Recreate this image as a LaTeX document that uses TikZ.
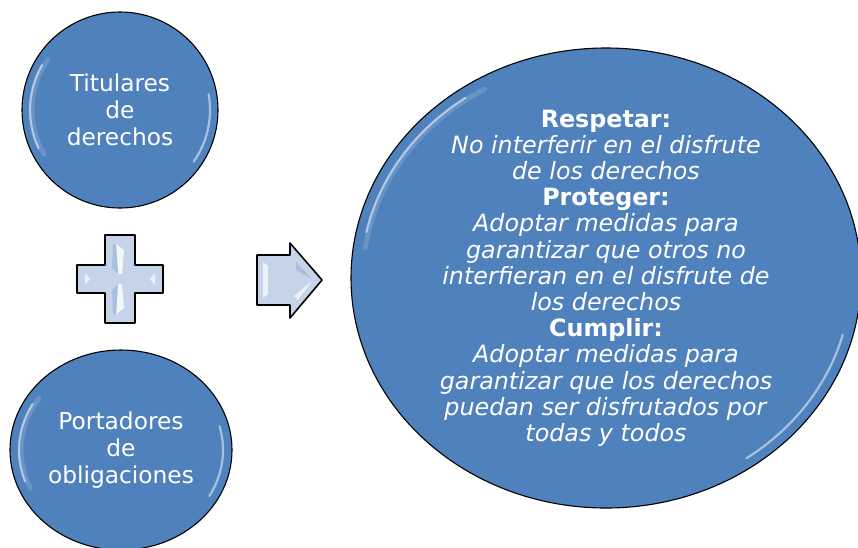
\documentclass[tikz,border=0pt]{standalone}
\usepackage{fontspec}
\setmainfont{DejaVu Sans}
\usetikzlibrary{shapes.geometric}
\definecolor{discblue}{RGB}{79,129,189}
\definecolor{bevelblue}{RGB}{198,212,234}
\definecolor{bevelshade}{RGB}{170,190,222}

\begin{document}
\begin{tikzpicture}[x=1pt, y=1pt,
    disc/.style={draw=black, line width=1.1pt, fill=discblue, text=white, align=center, inner sep=0pt},
    glint/.style={draw=white, line cap=round, line width=2.2pt, opacity=0.5},
    softglint/.style={draw=white, line cap=round, line width=5pt, opacity=0.15},
    bevel/.style={draw=black, line width=1.6pt, line join=round, fill=bevelblue}]
  \useasboundingbox (0,-547) rectangle (858,0);

  % the two parties
  \node[disc, circle, minimum size=196pt, font=\fontsize{23.3}{27}\selectfont]
    (holders) at (120,-110) {Titulares\\de\\derechos};
  \node[disc, ellipse, minimum width=222pt, minimum height=200pt, font=\fontsize{23.3}{27}\selectfont]
    (bearers) at (121,-450) {Portadores\\de\\obligaciones};

  % the duties
  \node[disc, ellipse, inner ysep=-40pt, minimum width=510pt, minimum height=460pt,
    font=\fontsize{23.8}{26.2}\selectfont]
    (duties) at (606,-278) {\textbf{Respetar:}\\
      \textit{No interferir en el disfrute}\\
      \textit{de los derechos}\\
      \textbf{Proteger:}\\
      \textit{Adoptar medidas para}\\
      \textit{garantizar que otros no}\\
      \textit{interfieran en el disfrute de}\\
      \textit{los derechos}\\
      \textbf{Cumplir:}\\
      \textit{Adoptar medidas para}\\
      \textit{garantizar que los derechos}\\
      \textit{puedan ser disfrutados por}\\
      \textit{todas y todos}};

  % glossy rims
  \draw[softglint] ([shift={(145:88)}]holders.center) arc[start angle=145, end angle=210, radius=88];
  \draw[glint] ([shift={(150:90)}]holders.center) arc[start angle=150, end angle=205, radius=90];
  \draw[glint] ([shift={(10:90)}]holders.center) arc[start angle=10, end angle=-35, radius=90];
  \draw[softglint] ([shift={(145:100 and 90)}]bearers.center) arc[start angle=145, end angle=205, x radius=100, y radius=90];
  \draw[glint] ([shift={(150:102 and 92)}]bearers.center) arc[start angle=150, end angle=200, x radius=102, y radius=92];
  \draw[glint] ([shift={(15:102 and 92)}]bearers.center) arc[start angle=15, end angle=-30, x radius=102, y radius=92];
  \draw[softglint] ([shift={(120:243 and 218)}]duties.center) arc[start angle=120, end angle=172, x radius=243, y radius=218];
  \draw[glint] ([shift={(125:245 and 220)}]duties.center) arc[start angle=125, end angle=168, x radius=245, y radius=220];
  \draw[glint] ([shift={(-15:245 and 220)}]duties.center) arc[start angle=-15, end angle=-55, x radius=245, y radius=220];

  % plus sign
  \draw[bevel] (105,-235) -- (135,-235) -- (135,-265) -- (163,-265) -- (163,-293)
    -- (135,-293) -- (135,-323) -- (105,-323) -- (105,-293) -- (77,-293)
    -- (77,-265) -- (105,-265) -- cycle;
  \fill[white, opacity=0.8] (116,-244) -- (124,-250) -- (122,-274) -- (118,-274) -- cycle;
  \fill[white, opacity=0.8] (118,-284) -- (122,-284) -- (124,-308) -- (116,-314) -- cycle;
  \fill[bevelshade] (113,-244) -- (116,-244) -- (118,-274) -- (112,-268) -- cycle;
  \fill[bevelshade] (112,-290) -- (118,-284) -- (116,-314) -- (113,-314) -- cycle;
  \fill[white, opacity=0.7] (85,-273) -- (90,-279) -- (85,-285) -- cycle;
  \fill[white, opacity=0.7] (155,-273) -- (150,-279) -- (155,-285) -- cycle;

  % arrow
  \draw[bevel] (257,-255) -- (290,-255) -- (290,-243) -- (322,-280) -- (290,-318)
    -- (290,-305) -- (257,-305) -- cycle;
  \fill[white, opacity=0.7] (263,-262) -- (268,-266) -- (268,-294) -- (263,-298) -- cycle;
  \fill[white, opacity=0.7] (294,-296) -- (312,-281) -- (298,-300) -- cycle;
  \fill[bevelshade] (296,-262) -- (312,-279) -- (296,-270) -- cycle;
\end{tikzpicture}
\end{document}
